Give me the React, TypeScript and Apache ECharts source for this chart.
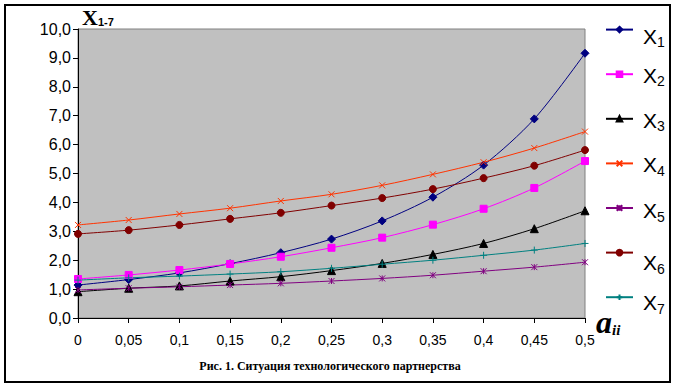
import React, { useEffect, useRef } from "react";
import * as echarts from "echarts";

const categories = ["0", "0,05", "0,1", "0,15", "0,2", "0,25", "0,3", "0,35", "0,4", "0,45", "0,5"];
const x1 = [1.14, 1.33, 1.56, 1.88, 2.26, 2.73, 3.36, 4.18, 5.29, 6.89, 9.16];
const x2 = [1.35, 1.49, 1.66, 1.87, 2.12, 2.43, 2.78, 3.23, 3.78, 4.5, 5.43];
const x3 = [0.91, 1.03, 1.11, 1.28, 1.43, 1.64, 1.89, 2.2, 2.58, 3.09, 3.71];
const x4 = [3.22, 3.39, 3.6, 3.8, 4.05, 4.28, 4.59, 4.97, 5.39, 5.88, 6.45];
const x5 = [0.97, 1.03, 1.08, 1.14, 1.2, 1.28, 1.37, 1.48, 1.62, 1.76, 1.93];
const x6 = [2.91, 3.04, 3.22, 3.43, 3.64, 3.89, 4.15, 4.46, 4.84, 5.27, 5.81];
const x7 = [1.31, 1.39, 1.45, 1.52, 1.6, 1.72, 1.86, 2.0, 2.17, 2.35, 2.58];
const seriesNames = ["X1", "X2", "X3", "X4", "X5", "X6", "X7"];
const seriesData = [x1, x2, x3, x4, x5, x6, x7];
const yTicks = [0, 1, 2, 3, 4, 5, 6, 7, 8, 9, 10];

const colors = ["#000080", "#FF00FF", "#000000", "#FF3300", "#800080", "#800000", "#008080"];
const symbols = [
  "diamond",
  "rect",
  "triangle",
  "path://M0,0L10,10M10,0L0,10",
  "path://M0,0L10,10M10,0L0,10M5,0L5,10",
  "circle",
  "path://M5,0L5,10M0,5L10,5",
];
const symbolSizes = [8, 7, 8, 6, 6, 7, 7];
// legend label centres (y) in the reference
const legendLabelY = [36, 75, 120, 164.5, 210.5, 262.5, 302.5];

export default function App() {
  const ref = useRef<HTMLDivElement>(null);
  useEffect(() => {
    if (!ref.current) return;
    const chart = echarts.init(ref.current, null, { renderer: "svg" });
    const labelGraphics = seriesNames.map((n, i) => ({
      type: "text",
      x: 643,
      y: legendLabelY[i],
      style: {
        text: `{x|X}{s|${n.slice(1)}}`,
        verticalAlign: "middle",
        align: "left",
        rich: {
          x: { fontFamily: "Arial, Liberation Sans", fontSize: 21, lineHeight: 26, fill: "#000" },
          s: { fontFamily: "Arial, Liberation Sans", fontSize: 14, lineHeight: 26, fill: "#000", padding: [12, 0, 0, 0] },
        },
      },
    }));
    chart.setOption({
      animation: false,
      backgroundColor: "#ffffff",
      grid: {
        left: 78,
        top: 29,
        right: 91,
        bottom: 70,
        show: true,
        backgroundColor: "#C0C0C0",
        borderColor: "#808080",
        borderWidth: 1,
        containLabel: false,
        outerBoundsMode: "none",
      },
      legend: {
        orient: "vertical",
        left: 605,
        top: 25.8,
        padding: 0,
        itemWidth: 27,
        itemHeight: 7,
        itemGap: 37,
        selectedMode: false,
        data: seriesNames,
        formatter: () => "",
        textStyle: { fontSize: 1, lineHeight: 1, padding: 0 },
      },
      xAxis: {
        type: "category",
        data: categories,
        boundaryGap: false,
        axisLine: { show: true, lineStyle: { color: "#000", width: 1 } },
        axisTick: { show: true, length: 5, lineStyle: { color: "#000" } },
        axisLabel: { color: "#000", fontFamily: "Arial, Liberation Sans", fontSize: 14, margin: 15, interval: 0 },
        splitLine: { show: false },
      },
      yAxis: {
        type: "value",
        min: yTicks[0],
        max: yTicks[yTicks.length - 1],
        interval: 1,
        axisLine: { show: true, lineStyle: { color: "#000", width: 1 } },
        axisTick: { show: true, length: 5, lineStyle: { color: "#000" } },
        axisLabel: {
          color: "#000",
          fontFamily: "Arial, Liberation Sans",
          fontSize: 16,
          margin: 7,
          formatter: (v: number) => v.toFixed(1).replace(".", ","),
        },
        splitLine: { show: false },
      },
      series: seriesNames.map((n, i) => ({
        name: n,
        type: "line",
        data: seriesData[i],
        smooth: 0.3,
        symbol: symbols[i],
        symbolSize: symbolSizes[i],
        showAllSymbol: true,
        lineStyle: { color: colors[i], width: 1 },
        itemStyle: { color: colors[i], borderColor: colors[i], borderWidth: 1 },
        emphasis: { disabled: true },
      })),
      graphic: [
        {
          type: "rect",
          shape: { x: 5, y: 5, width: 665, height: 377 },
          style: { fill: "none", stroke: "#000", lineWidth: 2 },
          silent: true,
        },
        ...labelGraphics,
        {
          type: "text",
          left: 82,
          top: 6,
          style: {
            text: "{x|X}{s|1-7}",
            rich: {
              x: { fontFamily: "Liberation Serif, Times New Roman", fontWeight: "bold", fontSize: 22, lineHeight: 24, fill: "#000" },
              s: { fontFamily: "Arial, Liberation Sans", fontWeight: "bold", fontSize: 11, lineHeight: 24, fill: "#000", padding: [10, 0, 0, 0] },
            },
          },
        },
        {
          type: "text",
          left: 596,
          top: 306,
          style: {
            text: "{a|a}{s|ii}",
            rich: {
              a: { fontFamily: "Liberation Serif, Times New Roman", fontWeight: "bold", fontStyle: "italic", fontSize: 32, lineHeight: 34, fill: "#000" },
              s: { fontFamily: "Liberation Serif, Times New Roman", fontWeight: "bold", fontStyle: "italic", fontSize: 15, lineHeight: 34, fill: "#000", padding: [16, 0, 0, 0] },
            },
          },
        },
        {
          type: "text",
          x: 330,
          y: 366,
          style: {
            text: "Рис. 1. Ситуация технологического партнерства",
            fontFamily: "Liberation Serif, Times New Roman",
            fontWeight: "bold",
            fontSize: 12,
            fill: "#000",
            align: "center",
            verticalAlign: "middle",
          },
        },
      ],
    });
    return () => chart.dispose();
  }, []);
  return (
    <div
      ref={ref}
      style={{ position: "fixed", left: 0, top: 0, width: 676, height: 388 }}
    />
  );
}
